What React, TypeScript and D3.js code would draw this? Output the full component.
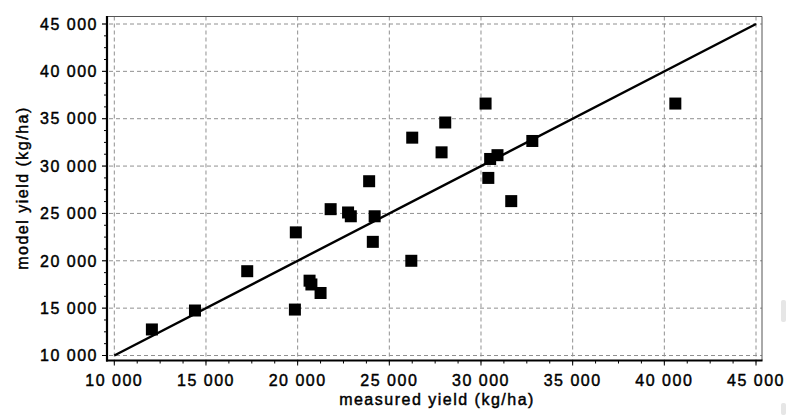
import React from "react";
import { scaleLinear, range, formatLocale, line } from "d3";

// measured yield vs model yield (kg/ha)
const measured = [
  12050, 14400, 17250, 19900, 19850, 20650, 20750, 21250, 21800, 22750,
  22900, 23900, 24200, 24100, 26200, 26250, 28050, 27850, 30250, 30400,
  30500, 30900, 31650, 32800, 40600,
];
const model = [
  12750, 14750, 18900, 23000, 14850, 17900, 17500, 16600, 25450, 25100,
  24700, 28400, 24700, 22000, 20000, 33000, 34600, 31450, 36600, 28750,
  30750, 31150, 26300, 32650, 36600,
];
const majorTicks = [10000, 15000, 20000, 25000, 30000, 35000, 40000, 45000];
const fitLine = [10000, 45000];

const W = 786;
const H = 415;
const frame = { left: 107, right: 762, top: 16.5, bottom: 360.5 };

const fmt = formatLocale({
  decimal: ".",
  thousands: " ",
  grouping: [3],
  currency: ["", ""],
}).format(",");

const textStyle = {
  fontFamily: "'Liberation Sans', Arial, sans-serif",
  fontSize: 16,
  letterSpacing: 1.5,
  fill: "#000",
  stroke: "#000",
  strokeWidth: 0.45,
};

export default function App() {
  const x = scaleLinear().domain([10000, 45000]).range([114.3, 756]);
  const y = scaleLinear().domain([10000, 45000]).range([355.5, 24]);
  const minor = range(10000, 45001, 1250).filter((v) => v % 5000 !== 0);
  const path = line<number>()
    .x((d) => x(d))
    .y((d) => y(d))(fitLine);
  const sq = 12;

  return (
    <div style={{ position: "absolute", left: 0, top: 0 }}>
      <svg width={W} height={H} style={{ display: "block", background: "#fff" }}>
        {/* grid */}
        {majorTicks.map((t) => (
          <g key={"g" + t}>
            <line
              x1={frame.left - 5}
              x2={frame.right}
              y1={y(t)}
              y2={y(t)}
              stroke="#909090"
              strokeDasharray="4 3"
            />
            <line
              x1={x(t)}
              x2={x(t)}
              y1={frame.top}
              y2={frame.bottom + 5}
              stroke="#909090"
              strokeDasharray="4 3"
            />
          </g>
        ))}
        {/* frame */}
        <line x1={frame.left} x2={frame.right} y1={frame.top} y2={frame.top} stroke="#555" />
        <line x1={frame.right} x2={frame.right} y1={frame.top} y2={frame.bottom} stroke="#555" />
        <line x1={frame.left} x2={frame.left} y1={frame.top - 0.5} y2={frame.bottom + 1} stroke="#000" strokeWidth={2.2} />
        <line x1={frame.left - 1} x2={frame.right + 0.5} y1={frame.bottom} y2={frame.bottom} stroke="#000" strokeWidth={2.2} />
        {/* major ticks */}
        {majorTicks.map((t) => (
          <g key={"t" + t}>
            <line x1={frame.left - 5} x2={frame.left} y1={y(t)} y2={y(t)} stroke="#000" />
            <line x1={x(t)} x2={x(t)} y1={frame.bottom} y2={frame.bottom + 5} stroke="#000" />
          </g>
        ))}
        {/* minor ticks */}
        {minor.map((t) => (
          <g key={"m" + t}>
            <line x1={frame.left - 3} x2={frame.left} y1={y(t)} y2={y(t)} stroke="#000" />
            <line x1={x(t)} x2={x(t)} y1={frame.bottom} y2={frame.bottom + 3} stroke="#000" />
          </g>
        ))}
        {/* tick labels */}
        {majorTicks.map((t) => (
          <text key={"yl" + t} x={98} y={y(t)} dy="0.36em" textAnchor="end" {...textStyle}>
            {fmt(t)}
          </text>
        ))}
        {majorTicks.map((t) => (
          <text key={"xl" + t} x={x(t)} y={386} textAnchor="middle" {...textStyle}>
            {fmt(t)}
          </text>
        ))}
        {/* axis titles */}
        <text x={437} y={405} textAnchor="middle" {...textStyle}>
          measured yield (kg/ha)
        </text>
        <text transform="translate(28,188) rotate(-90)" textAnchor="middle" {...textStyle}>
          model yield (kg/ha)
        </text>
        {/* 1:1 line */}
        <path d={path || ""} fill="none" stroke="#000" strokeWidth={2.4} />
        {/* points */}
        {measured.map((m, i) => (
          <rect
            key={"p" + i}
            x={x(m) - sq / 2}
            y={y(model[i]) - sq / 2}
            width={sq}
            height={sq}
            fill="#000"
          />
        ))}
        {/* faint edge artifacts */}
        <rect x={781} y={300} width={5} height={22} rx={2} fill="#e6e6e6" />
        <rect x={781} y={403} width={5} height={12} rx={2} fill="#e6e6e6" />
      </svg>
    </div>
  );
}
